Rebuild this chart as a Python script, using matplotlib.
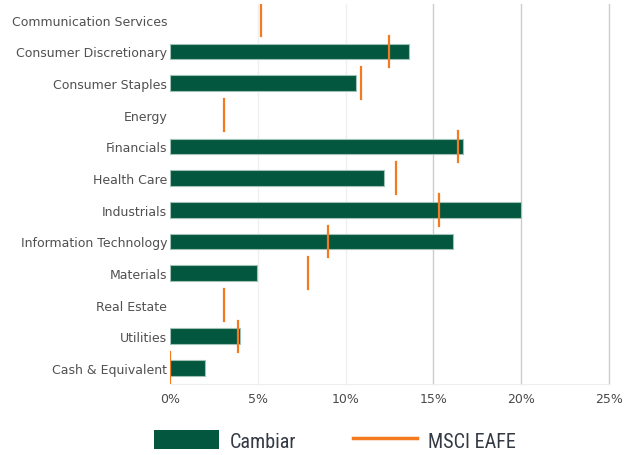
import numpy as np
import matplotlib.pyplot as plt
from matplotlib.patches import Patch
from matplotlib.lines import Line2D
from matplotlib import font_manager

# sector names, top to bottom
sectors = ["Communication Services", "Consumer Discretionary", "Consumer Staples",
           "Energy", "Financials", "Health Care", "Industrials",
           "Information Technology", "Materials", "Real Estate", "Utilities",
           "Cash & Equivalent"]
# weights in %
cambiar = [0.0, 13.6, 10.6, 0.0, 16.7, 12.2, 20.0, 16.1, 4.95, 0.0, 4.0, 2.0]
msci_eafe = [5.2, 12.5, 10.9, 3.1, 16.4, 12.9, 15.3, 9.0, 7.85, 3.1, 3.85, 0.0]
xticks = [0, 5, 10, 15, 20, 25]

green = "#02573E"
orange = "#F47A20"

# pick a narrow font for the legend if one is around
names = {f.name for f in font_manager.fontManager.ttflist}
narrow = [n for n in ["Liberation Sans Narrow", "DejaVu Sans Condensed", "Roboto Condensed"] if n in names]
leg_font = narrow[0] if narrow else "DejaVu Sans"

fig = plt.figure(figsize=(6.34, 4.56), dpi=100)
ax = fig.add_axes([0.268, 0.156, 0.6925, 0.833])

y = np.arange(len(sectors))

# gridlines (5 and 10 are very faint in the original)
for t in xticks[1:]:
    c = "#f0f0f0" if t < 15 else "#cccccc"
    ax.axvline(t, color=c, lw=1, zorder=0, clip_on=False)

lws = [0.8 if v > 0 else 0 for v in cambiar]
ax.barh(y, cambiar, height=0.5, color=green, edgecolor="#9fc2b5", linewidth=lws, zorder=2)
# benchmark shown as short vertical ticks across each row
for yi, v in zip(y, msci_eafe):
    ax.plot([v, v], [yi - 0.5, yi + 0.5], color=orange, lw=1.6, zorder=3)

ax.set_xlim(0, 25)
ax.set_ylim(len(sectors) - 0.5, -0.5)
ax.set_yticks(y)
ax.set_yticklabels(sectors, fontsize=9, color="#505050")
ax.set_xticks(xticks)
ax.set_xticklabels([f"{t}%" for t in xticks], fontsize=9, color="#4a4a4a")
ax.tick_params(length=0, pad=2)
ax.tick_params(axis="x", pad=6)

for s in ["top", "right", "left"]:
    ax.spines[s].set_visible(False)
ax.spines["bottom"].set_color("#eeeeee")

handles = [Patch(facecolor=green, edgecolor="none", label="Cambiar"),
           Line2D([], [], color=orange, lw=2.5, label="MSCI EAFE")]
leg = fig.legend(handles=handles, loc="lower center", bbox_to_anchor=(0.529, -0.03), ncol=2,
                 frameon=False, handlelength=3.2, handleheight=1.1, handletextpad=0.55,
                 columnspacing=2.8, prop={"family": leg_font, "size": 14.5})
for t in leg.get_texts():
    t.set_color("#333a44")

plt.savefig("out.png")
